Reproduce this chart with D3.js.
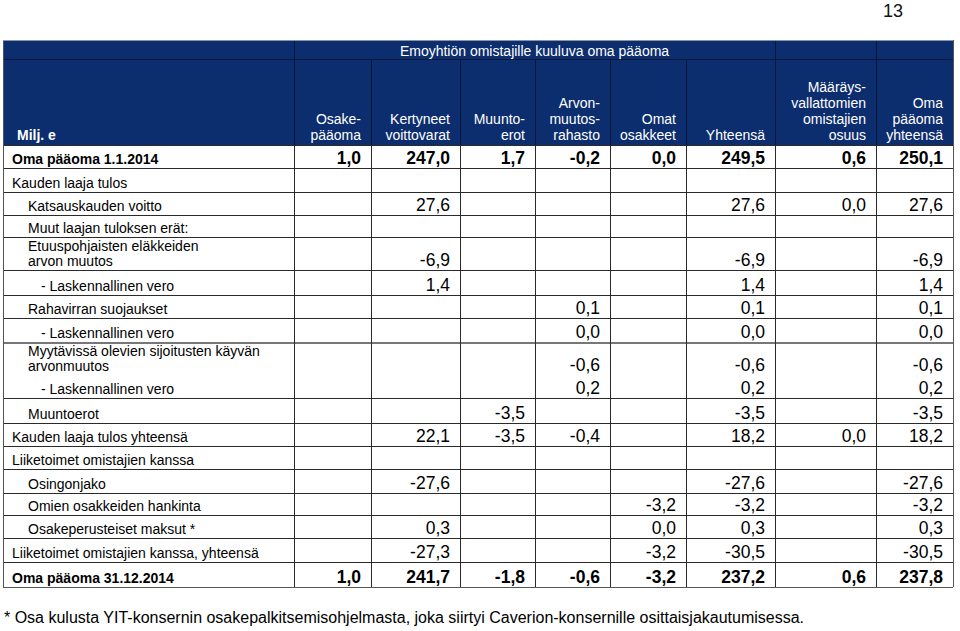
<!DOCTYPE html>
<html><head><meta charset="utf-8">
<script src="https://cdn.jsdelivr.net/npm/d3@7"></script>
<style>
html,body{margin:0;padding:0;background:#fff;}
svg{display:block;font-family:"Liberation Sans",Arial,Helvetica,sans-serif;}
</style></head>
<body>
<svg id="chart" width="960" height="631"></svg>
<script>
// ---------- DATA ----------
const pageNumber = "13";
const unitLabel = "Milj. e";
const groupHeader = "Emoyhtiön omistajille kuuluva oma pääoma";
const columnKeys = ["osake","kertyneet","muunto","arvon","omat","yht","maarays","total"];
const columnHeaders = [
  ["Osake-","pääoma"],
  ["Kertyneet","voittovarat"],
  ["Muunto-","erot"],
  ["Arvon-","muutos-","rahasto"],
  ["Omat","osakkeet"],
  ["Yhteensä"],
  ["Määräys-","vallattomien","omistajien","osuus"],
  ["Oma","pääoma","yhteensä"]
];
const rowLabels = [
  "Oma pääoma 1.1.2014",
  "Kauden laaja tulos",
  "Katsauskauden voitto",
  "Muut laajan tuloksen erät:",
  "Etuuspohjaisten eläkkeiden|arvon muutos",
  "- Laskennallinen vero",
  "Rahavirran suojaukset",
  "- Laskennallinen vero",
  "Myytävissä olevien sijoitusten käyvän|arvonmuutos",
  "- Laskennallinen vero",
  "Muuntoerot",
  "Kauden laaja tulos yhteensä",
  "Liiketoimet omistajien kanssa",
  "Osingonjako",
  "Omien osakkeiden hankinta",
  "Osakeperusteiset maksut *",
  "Liiketoimet omistajien kanssa, yhteensä",
  "Oma pääoma 31.12.2014"
];
const boldRows = [0, 17];
const osakepaaoma        = [1.0, null, null, null, null, null, null, null, null, null, null, null, null, null, null, null, null, 1.0];
const kertyneetVoittovarat = [247.0, null, 27.6, null, -6.9, 1.4, null, null, null, null, null, 22.1, null, -27.6, null, 0.3, -27.3, 241.7];
const muuntoerot         = [1.7, null, null, null, null, null, null, null, null, null, -3.5, -3.5, null, null, null, null, null, -1.8];
const arvonmuutosrahasto = [-0.2, null, null, null, null, null, 0.1, 0.0, -0.6, 0.2, null, -0.4, null, null, null, null, null, -0.6];
const omatOsakkeet       = [0.0, null, null, null, null, null, null, null, null, null, null, null, null, null, -3.2, 0.0, -3.2, -3.2];
const yhteensa           = [249.5, null, 27.6, null, -6.9, 1.4, 0.1, 0.0, -0.6, 0.2, -3.5, 18.2, null, -27.6, -3.2, 0.3, -30.5, 237.2];
const maaraysvallattomat = [0.6, null, 0.0, null, null, null, null, null, null, null, null, 0.0, null, null, null, null, null, 0.6];
const omaPaaomaYhteensa  = [250.1, null, 27.6, null, -6.9, 1.4, 0.1, 0.0, -0.6, 0.2, -3.5, 18.2, null, -27.6, -3.2, 0.3, -30.5, 237.8];
const footnote = "* Osa kulusta YIT-konsernin osakepalkitsemisohjelmasta, joka siirtyi Caverion-konsernille osittaisjakautumisessa.";

// ---------- LAYOUT ----------
const seriesByCol = [osakepaaoma, kertyneetVoittovarat, muuntoerot, arvonmuutosrahasto, omatOsakkeet, yhteensa, maaraysvallattomat, omaPaaomaYhteensa];
const rowIndent = [0,0,1,1,1,2,1,2,1,2,1,0,0,1,1,1,0,0];
const indentX = [12, 28, 41];
const tableLeft = 3, labelRight = 294;
const colWidths = [77, 89, 75, 75, 76, 89, 101, 77];
const headerTop = 40, headerMid = 59, headerBottom = 145;
const rowHeights = [23,24,23,22,33,25,23,24,33,23,25,23,23,24,22,23,24,25];
const navy = "#0c2d6e", headerLine = "#0a1738", gridColor = "#2a2a2a";

const colLefts = [labelRight, ...d3.cumsum(colWidths).map(d => labelRight + d)];
const tableRight = colLefts[colLefts.length - 1];
const xLeft = d3.scaleOrdinal().domain(columnKeys).range(colLefts.slice(0, -1));
const xRight = d3.scaleOrdinal().domain(columnKeys).range(colLefts.slice(1));
const rowTops = [headerBottom, ...d3.cumsum(rowHeights).map(d => headerBottom + d)];
const rowIdx = d3.range(rowLabels.length);
const yTop = d3.scaleOrdinal().domain(rowIdx).range(rowTops.slice(0, -1));
const yBot = d3.scaleOrdinal().domain(rowIdx).range(rowTops.slice(1));
const tableBottom = rowTops[rowTops.length - 1];

const fiLocale = d3.formatLocale({decimal: ",", thousands: " ", grouping: [3], currency: ["", " €"], minus: "-"});
const fmt = fiLocale.format(".1f");

const svg = d3.select("#chart");

// page number
svg.append("text").attr("x", 903).attr("y", 17).attr("text-anchor", "end")
  .attr("font-size", 18).attr("fill", "#111").text(pageNumber);

// header background
svg.append("rect").attr("x", tableLeft).attr("y", headerTop)
  .attr("width", tableRight - tableLeft).attr("height", headerBottom - headerTop).attr("fill", navy);

const g = svg.append("g").attr("shape-rendering", "crispEdges");
// header lines
g.append("line").attr("x1", tableLeft).attr("x2", tableRight).attr("y1", headerMid + 0.5).attr("y2", headerMid + 0.5)
  .attr("stroke", headerLine).attr("stroke-width", 1.3);
[labelRight, xLeft("maarays"), xLeft("total")].forEach(x => {
  g.append("line").attr("x1", x + 0.5).attr("x2", x + 0.5).attr("y1", headerTop).attr("y2", headerMid)
    .attr("stroke", headerLine).attr("stroke-width", 1.3);
});
colLefts.slice(0, -1).forEach(x => {
  g.append("line").attr("x1", x + 0.5).attr("x2", x + 0.5).attr("y1", headerMid).attr("y2", headerBottom)
    .attr("stroke", headerLine).attr("stroke-width", 1.3);
});

// header text
svg.append("text").attr("x", (labelRight + xRight("yht")) / 2).attr("y", 56).attr("text-anchor", "middle")
  .attr("font-size", 14).attr("fill", "#fff").text(groupHeader);
svg.append("text").attr("x", 17).attr("y", 140).attr("font-size", 14).attr("font-weight", "bold")
  .attr("fill", "#fff").text(unitLabel);
columnKeys.forEach((k, i) => {
  const lines = columnHeaders[i];
  lines.forEach((ln, j) => {
    svg.append("text").attr("x", xRight(k) - 10).attr("y", 140 - (lines.length - 1 - j) * 16)
      .attr("text-anchor", "end").attr("font-size", 14).attr("fill", "#fff").text(ln);
  });
});

// body grid
rowIdx.forEach(i => {
  const y = yBot(i);
  const special = (i === 8);
  g.append("line").attr("x1", tableLeft).attr("x2", tableRight)
    .attr("y1", (special ? yTop(i) : y) + 0.5).attr("y2", (special ? yTop(i) : y) + 0.5)
    .attr("stroke", special ? "#777" : gridColor).attr("stroke-width", special ? 2 : 1);
});
g.append("line").attr("x1", tableLeft).attr("x2", tableRight).attr("y1", headerBottom + 0.5).attr("y2", headerBottom + 0.5)
  .attr("stroke", gridColor).attr("stroke-width", 1.2);
g.append("line").attr("x1", tableLeft).attr("x2", tableRight).attr("y1", tableBottom + 0.5).attr("y2", tableBottom + 0.5)
  .attr("stroke", "#555").attr("stroke-width", 1.6);
[tableLeft, ...colLefts].forEach((x, i) => {
  g.append("line").attr("x1", x + 0.5).attr("x2", x + 0.5).attr("y1", headerBottom).attr("y2", tableBottom)
    .attr("stroke", (i === 0 || i === colLefts.length) ? "#555" : gridColor).attr("stroke-width", (i === 0 || i === colLefts.length) ? 1.5 : 1);
});
// outer header borders
g.append("line").attr("x1", tableLeft + 0.5).attr("x2", tableLeft + 0.5).attr("y1", headerTop).attr("y2", headerBottom)
  .attr("stroke", "#555").attr("stroke-width", 1.5);
g.append("line").attr("x1", tableRight + 0.5).attr("x2", tableRight + 0.5).attr("y1", headerTop).attr("y2", headerBottom)
  .attr("stroke", "#555").attr("stroke-width", 1.5);
g.append("line").attr("x1", tableLeft).attr("x2", tableRight).attr("y1", headerTop + 0.5).attr("y2", headerTop + 0.5)
  .attr("stroke", "#8a93a8").attr("stroke-width", 1);

// row labels
rowIdx.forEach(i => {
  const bold = boldRows.includes(i);
  const lines = rowLabels[i].split("|");
  lines.forEach((ln, j) => {
    svg.append("text").attr("x", indentX[rowIndent[i]])
      .attr("y", yBot(i) - 4 - (lines.length - 1 - j) * 15)
      .attr("font-size", 14).attr("font-weight", bold ? "bold" : "normal").attr("fill", "#000").text(ln);
  });
});

// values
columnKeys.forEach((k, c) => {
  seriesByCol[c].forEach((v, i) => {
    if (v === null) return;
    const bold = boldRows.includes(i);
    svg.append("text").attr("x", xRight(k) - 10).attr("y", yBot(i) - 4)
      .attr("text-anchor", "end").attr("font-size", 17.5)
      .attr("font-weight", bold ? "bold" : "normal").attr("fill", "#000").text(fmt(v));
  });
});

// footnote
svg.append("text").attr("x", 4).attr("y", 623).attr("font-size", 16).attr("fill", "#000").text(footnote);
</script>
</body></html>
